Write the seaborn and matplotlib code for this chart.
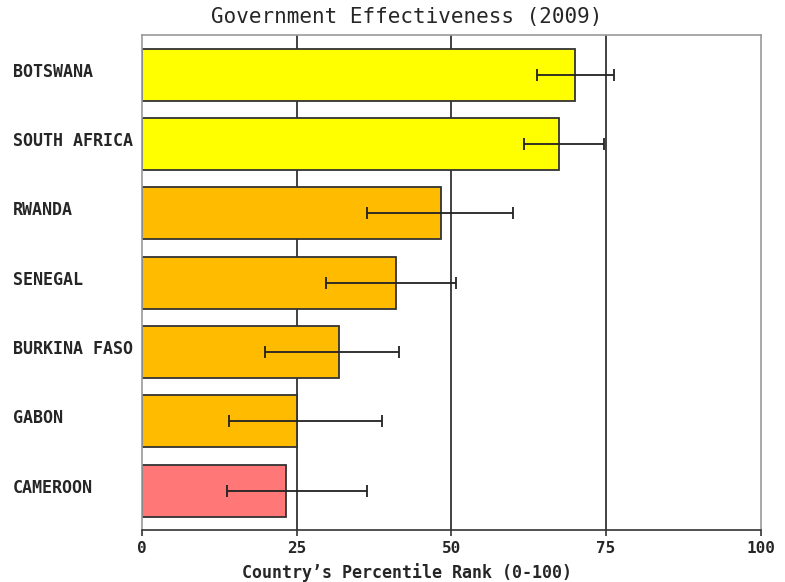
import matplotlib
matplotlib.use('Agg')
import matplotlib.pyplot as plt
import matplotlib.transforms as mtransforms
import pandas as pd
import seaborn as sns

countries = ['BOTSWANA', 'SOUTH AFRICA', 'RWANDA', 'SENEGAL',
             'BURKINA FASO', 'GABON', 'CAMEROON']
rank = [70.0, 67.4, 48.4, 41.0, 31.8, 25.1, 23.2]
lower = [63.9, 61.7, 36.3, 29.7, 19.8, 14.1, 13.7]
upper = [76.3, 74.6, 59.9, 50.7, 41.6, 38.8, 36.3]
group = ['high', 'high', 'mid', 'mid', 'mid', 'mid', 'low']
colors = {'high': '#FFFF00', 'mid': '#FFBB00', 'low': '#FF7777'}

df = pd.DataFrame({'country': countries, 'rank': rank,
                   'lower': lower, 'upper': upper, 'group': group})

sns.set_style('white')
mono = 'DejaVu Sans Mono'

fig = plt.figure(figsize=(7.85, 5.82), dpi=100)
ax = fig.add_axes([0.181, 0.0893, 0.788, 0.8505])

sns.barplot(data=df, x='rank', y='country', hue='group', palette=colors,
            orient='h', width=0.75, edgecolor='#333333', linewidth=1.3,
            saturation=1, dodge=False, legend=False, ax=ax, zorder=2)

# error bars from the interval bounds
pos = range(len(df))
ax.errorbar(df['rank'], list(pos),
            xerr=[df['rank'] - df['lower'], df['upper'] - df['rank']],
            fmt='none', ecolor='#222222', elinewidth=1.3, capsize=4,
            capthick=1.3, zorder=3)

ax.set_xlim(0, 100)
ax.set_ylim(len(df) - 0.43, -0.57)
for v in [25, 50, 75]:
    ax.axvline(v, color='#333333', linewidth=1.3, zorder=1)

ax.set_xticks([0, 25, 50, 75, 100])
ax.tick_params(axis='x', bottom=True, direction='out', length=4, width=1.2,
               color='#333333', labelsize=11.5, pad=4)
ax.tick_params(axis='y', left=False, length=0, pad=93)
for lab in ax.get_xticklabels():
    lab.set_fontfamily(mono)
    lab.set_fontweight('bold')
# country names sit a little above the bar centres in the original
shift = mtransforms.ScaledTranslation(0, 0.05, fig.dpi_scale_trans)
for lab in ax.get_yticklabels():
    lab.set_fontfamily(mono)
    lab.set_fontweight('bold')
    lab.set_fontsize(12)
    lab.set_horizontalalignment('left')
    lab.set_transform(lab.get_transform() + shift)

for side in ['top', 'right', 'left']:
    ax.spines[side].set_color('#999999')
    ax.spines[side].set_linewidth(1.2)
ax.spines['bottom'].set_color('#333333')
ax.spines['bottom'].set_linewidth(1.2)

ax.set_ylabel('')
ax.set_xlabel('Country’s Percentile Rank (0-100)', fontfamily=mono,
              fontweight='bold', fontsize=12)
ax.xaxis.label.set_verticalalignment('center')
ax.xaxis.set_label_coords(0.428, -0.086)
ax.set_title('Government Effectiveness (2009)', fontfamily=mono,
             fontsize=15, x=0.428, y=1.0, pad=9)

fig.savefig('out.png', dpi=100)
